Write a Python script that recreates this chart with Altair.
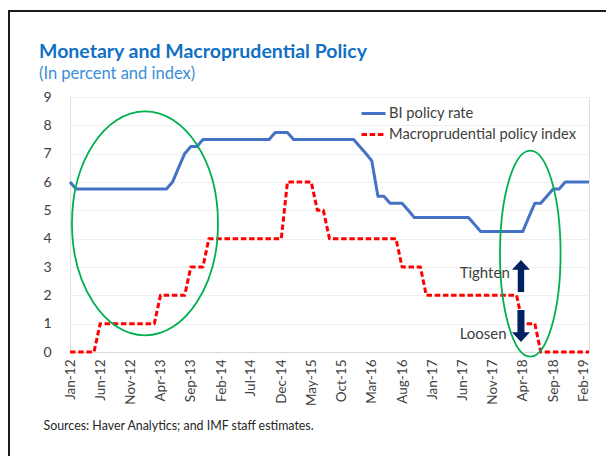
import altair as alt
import pandas as pd

# ---------------- data ----------------
months = [f"{y}-{m:02d}-01T00:00:00" for y in range(2012, 2020) for m in range(1, 13)][:87]

bi_rate = [
    6.0, 5.75, 5.75, 5.75, 5.75, 5.75, 5.75, 5.75, 5.75, 5.75, 5.75, 5.75,   # 2012
    5.75, 5.75, 5.75, 5.75, 5.75, 6.0, 6.5, 7.0, 7.25, 7.25, 7.5, 7.5,       # 2013
    7.5, 7.5, 7.5, 7.5, 7.5, 7.5, 7.5, 7.5, 7.5, 7.5, 7.75, 7.75,            # 2014
    7.75, 7.5, 7.5, 7.5, 7.5, 7.5, 7.5, 7.5, 7.5, 7.5, 7.5, 7.5,             # 2015
    7.25, 7.0, 6.75, 5.5, 5.5, 5.25, 5.25, 5.25, 5.0, 4.75, 4.75, 4.75,      # 2016
    4.75, 4.75, 4.75, 4.75, 4.75, 4.75, 4.75, 4.5, 4.25, 4.25, 4.25, 4.25,   # 2017
    4.25, 4.25, 4.25, 4.25, 4.75, 5.25, 5.25, 5.5, 5.75, 5.75, 6.0, 6.0,     # 2018
    6.0, 6.0, 6.0,                                                         # 2019
]
macro_index = [
    0, 0, 0, 0, 0, 1, 1, 1, 1, 1, 1, 1,   # 2012
    1, 1, 1, 2, 2, 2, 2, 2, 3, 3, 3, 4,   # 2013
    4, 4, 4, 4, 4, 4, 4, 4, 4, 4, 4, 4,   # 2014
    6, 6, 6, 6, 6, 5, 5, 4, 4, 4, 4, 4,   # 2015
    4, 4, 4, 4, 4, 4, 4, 3, 3, 3, 3, 2,   # 2016
    2, 2, 2, 2, 2, 2, 2, 2, 2, 2, 2, 2,   # 2017
    2, 2, 2, 1, 1, 1, 0, 0, 0, 0, 0, 0,   # 2018
    0, 0, 0,                              # 2019
]
series_names = ["BI policy rate", "Macroprudential policy index"]
series_colors = ["#4472C4", "#FF0000"]

tick_dates = [(2012 + (m // 12), m % 12 + 1) for m in range(0, 86, 5)]
y_grid_values = [i * 0.25 for i in range(37)]

# annotations
ellipse_dates = ["2013-01-13T00:00:00", "2018-05-09T00:00:00"]
ellipse_values = [4.54, 3.47]
arrow_dates = ["2018-03-23T00:00:00", "2018-03-23T00:00:00"]
arrow_values = [2.68, 0.92]
label_texts = ["Tighten", "Loosen"]
label_dates = ["2017-05-18T00:00:00", "2017-05-18T00:00:00"]
label_values = [2.79, 0.64]

FONT = "Lato"
TXT = "#404040"

df = pd.DataFrame({
    "date": months + months,
    "value": bi_rate + macro_index,
    "series": [series_names[0]] * len(months) + [series_names[1]] * len(months),
})

X = alt.X(
    "date:T",
    scale=alt.Scale(domain=[alt.DateTime(year=2012, month=1, date=1),
                            alt.DateTime(year=2019, month=3, date=1)]),
    axis=alt.Axis(
        values=[alt.DateTime(year=y, month=m, date=1) for y, m in tick_dates],
        format="%b-%y", labelAngle=270, labelFont=FONT, labelFontSize=13.5,
        labelColor=TXT, ticks=False, labelPadding=7, grid=False,
        domainColor="#d9d9d9", labelOverlap=False,
        title="Sources: Haver Analytics; and IMF staff estimates.",
        titleX=-27, titleY=77, titleAlign="left", titleAnchor="start",
        titleBaseline="alphabetic", titleFont=FONT, titleFontSize=12.4,
        titleFontWeight="normal", titleColor="#262626",
    ),
)
Y = alt.Y(
    "value:Q",
    scale=alt.Scale(domain=[0, 9], nice=False),
    axis=alt.Axis(
        values=y_grid_values, format="d",
        labelExpr="datum.value % 1 == 0 ? datum.label : ''",
        ticks=False, domain=False, gridColor="#efefef", labelPadding=19,
        labelFontSize=14, labelFont=FONT, labelColor=TXT, title=None,
        labelOverlap=False,
    ),
)

legend = alt.Legend(
    orient="none", legendX=290, legendY=3, title=None, symbolType="stroke",
    symbolSize=576, symbolStrokeWidth=3, labelFontSize=14.7, labelFont=FONT,
    labelColor=TXT, labelOffset=2, rowPadding=0, padding=0, labelLimit=400,
)

lines = alt.Chart(df).mark_line(strokeWidth=3, strokeJoin="round").encode(
    x=X, y=Y,
    color=alt.Color("series:N", scale=alt.Scale(domain=series_names, range=series_colors), legend=legend),
    strokeDash=alt.StrokeDash("series:N", scale=alt.Scale(domain=series_names, range=[[1, 0], [5.5, 2.7]]), legend=legend),
)

def ellipse_path(ratio):
    r = f"{ratio:.3f}"
    return f"M -{r} 0 A {r} 1 0 1 0 {r} 0 A {r} 1 0 1 0 -{r} 0 Z"

ell_df = pd.DataFrame({"date": ellipse_dates, "value": ellipse_values})
ell1 = alt.Chart(ell_df.iloc[[0]]).mark_point(
    shape=ellipse_path(0.652), size=50176, filled=False, stroke="#00B050",
    strokeWidth=1.8, opacity=1).encode(x=X, y=Y)
ell2 = alt.Chart(ell_df.iloc[[1]]).mark_point(
    shape=ellipse_path(0.294), size=42436, filled=False, stroke="#00B050",
    strokeWidth=1.8, opacity=1).encode(x=X, y=Y)

up_path = "M 0 -1 L 0.56 -0.4 L 0.2 -0.4 L 0.2 1 L -0.2 1 L -0.2 -0.4 L -0.56 -0.4 Z"
down_path = "M 0 1 L 0.56 0.4 L 0.22 0.4 L 0.22 -1 L -0.22 -1 L -0.22 0.4 L -0.56 0.4 Z"
arr_df = pd.DataFrame({"date": arrow_dates, "value": arrow_values})
arr_up = alt.Chart(arr_df.iloc[[0]]).mark_point(
    shape=up_path, size=1024, filled=True, color="#002060", opacity=1, strokeWidth=0).encode(x=X, y=Y)
arr_dn = alt.Chart(arr_df.iloc[[1]]).mark_point(
    shape=down_path, size=1024, filled=True, color="#002060", opacity=1, strokeWidth=0).encode(x=X, y=Y)

lab_df = pd.DataFrame({"date": label_dates, "value": label_values, "text": label_texts})
labels = alt.Chart(lab_df).mark_text(
    align="left", baseline="middle", font=FONT, fontSize=15, color=TXT).encode(
    x=X, y=Y, text="text:N")

frame = alt.Chart(pd.DataFrame({"a": [0]})).mark_rect(
    fillOpacity=0, stroke="#1a1a1a", strokeWidth=2).encode(
    x=alt.value(-61), x2=alt.value(600), y=alt.value(-86), y2=alt.value(420))

chart = alt.layer(lines, ell1, ell2, arr_up, arr_dn, labels, frame).properties(
    width=519, height=255,
    autosize=alt.AutoSizeParams(type="none"),
    padding={"left": 62, "top": 89, "right": 17, "bottom": 104},
    title=alt.TitleParams(
        text="Monetary and Macroprudential Policy",
        subtitle="(In percent and index)",
        anchor="start", dx=31, offset=-73,
        font=FONT, fontSize=19.5, fontWeight="bold", color="#1170C4",
        subtitleFont=FONT, subtitleFontSize=16.5, subtitleColor="#3B8ED6",
        subtitlePadding=3,
    ),
).configure_view(stroke="#d9d9d9").configure(background="white")

chart.save("out.html", embed_options={"renderer": "svg", "actions": False})
